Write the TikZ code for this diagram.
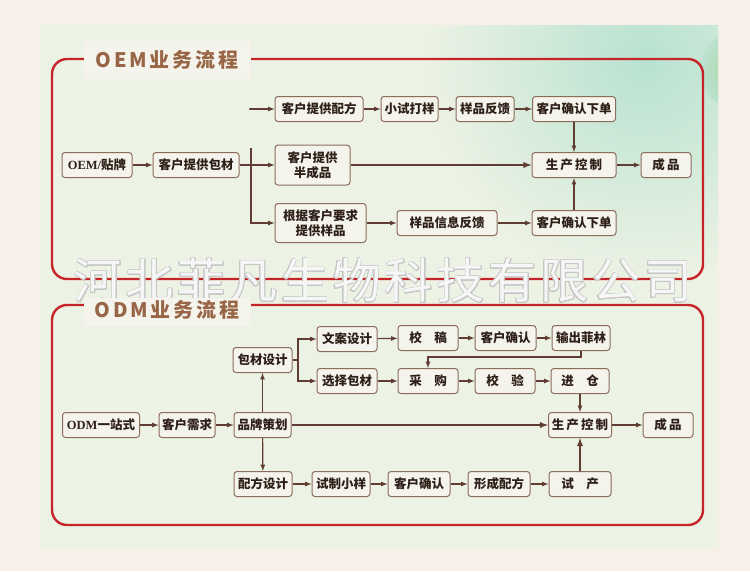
\documentclass[tikz,border=0pt]{standalone}
\usepackage{fontspec}
\usepackage{xcolor}
\usepackage{tikz}
\usepackage{contour}
\usetikzlibrary{arrows, positioning}
\setmainfont{Liberation Serif}
\newfontfamily\cjk{Noto Sans CJK SC}
\newfontfamily\cjktitle[LetterSpace=14]{Noto Sans CJK SC}
\newfontfamily\cjkmark[LetterSpace=8]{Noto Sans CJK SC}
\newcommand{\latn}[1]{{\rmfamily\bfseries #1}}
\definecolor{outerbg}{RGB}{247,240,232}
\definecolor{panelbg}{RGB}{236,242,228}
\definecolor{framered}{RGB}{198,36,40}
\definecolor{titlebrown}{RGB}{152,102,70}
\definecolor{boxline}{RGB}{140,108,92}
\definecolor{boxfill}{RGB}{244,244,236}
\definecolor{flowline}{RGB}{96,60,50}
\definecolor{boxtext}{RGB}{46,32,24}
\contourlength{0.7pt}
\contournumber{24}

\begin{document}
\begin{tikzpicture}[x=1pt, y=-1pt,
    box/.style={draw=boxline, fill=boxfill, rounded corners=3pt, line width=1pt,
                minimum height=25pt, inner sep=1pt, align=center, text=boxtext,
                font=\cjk\bfseries\fontsize{12.5}{15}\selectfont},
    flow/.style={draw=flowline, line width=1.2pt, -latex},
    thickflow/.style={flow, line width=1.8pt},
    plain/.style={draw=flowline, line width=1.2pt},
    frame/.style={draw=framered, line width=2.4pt, rounded corners=15pt},
    titlepatch/.style={fill=boxfill, minimum width=167pt, minimum height=38pt, inner sep=0pt},
    titletext/.style={text=titlebrown, font=\cjktitle\bfseries\fontsize{20}{22}\selectfont}]
\useasboundingbox (0,0) rectangle (750,571);
% background
\fill[outerbg] (0,0) rectangle (750,571);
\fill[panelbg] (40,25) rectangle (718,548);
\begin{scope}
  \clip (40,25) rectangle (718,548);
  \shade[inner color={rgb,255:red,184;green,226;blue,208}, outer color=panelbg] (645,60) circle (220);
  \shade[inner color={rgb,255:red,172;green,212;blue,152}, outer color={rgb,255:red,186;green,226;blue,208}] (740,70) circle (40);
\end{scope}

% frames
\draw[frame] (52,59) rectangle (703,279);
\draw[frame] (52,305) rectangle (703,525);

% watermark
\node[opacity=0.85, inner sep=0pt, font=\cjkmark\fontsize{48}{50}\selectfont] (mark) at (383,281)
  {\contour{gray!45}{\textcolor{white}{河北菲凡生物科技有限公司}}};

% titles
\node[titlepatch] (oempatch) at (167,60) {};
\node[titletext] (oemtitle) at (167,60) {OEM业务流程};
\node[titlepatch, minimum height=28pt] (odmpatch) at (167,312) {};
\node[titletext] (odmtitle) at (167,310) {ODM业务流程};

% OEM
\node[box, minimum width=70pt] (oem) at (97,165) {\latn{OEM/}贴牌};
\node[box, minimum width=86pt] (bc) at (196,165) {客户提供包材};
\node[box, minimum width=88pt] (pf) at (319,109) {客户提供配方};
\node[box, minimum width=75pt, minimum height=40pt] (bcp) at (312.5,165) {客户提供\\半成品};
\node[box, minimum width=91pt, minimum height=39pt] (yp) at (320.5,223) {根据客户要求\\提供样品};
\node[box, minimum width=57pt] (xs) at (409.5,109) {小试打样};
\node[box, minimum width=58pt] (fk) at (485,109) {样品反馈};
\node[box, minimum width=83pt] (qr1) at (574,109) {客户确认下单};
\node[box, minimum width=84pt] (sc1) at (574,165) {生\,产\,控\,制};
\node[box, minimum width=50pt] (cp1) at (666,165) {成\,品};
\node[box, minimum width=100pt] (xx) at (447,223) {样品信息反馈};
\node[box, minimum width=84pt] (qr2) at (574,223) {客户确认下单};

\coordinate (pfin) at (250,109);
\coordinate (fork1) at (251,148);
\draw[flow] (oem) -- (bc);
\draw[flow] (bc) -- (bcp);
\draw[flow] (fork1) |- (yp);
\draw[flow] (pfin) -- (pf);
\fill[flowline] (pfin) circle (1.2pt);
\draw[flow] (pf) -- (xs);
\draw[flow] (xs) -- (fk);
\draw[flow] (fk) -- (qr1);
\draw[flow] (qr1) -- (sc1);
\draw[thickflow] (bcp) -- (sc1);
\draw[flow] (yp) -- (xx);
\draw[flow] (xx) -- (qr2);
\draw[flow] (qr2) -- (sc1);
\draw[flow] (sc1) -- (cp1);

% ODM
\node[box, minimum width=77pt] (odm) at (101,425) {\latn{ODM}一站式};
\node[box, minimum width=56pt] (xq) at (187,425) {客户需求};
\node[box, minimum width=57pt] (pp) at (262.5,425) {品牌策划};
\node[box, minimum width=59pt] (bz) at (262.5,360) {包材设计};
\node[box, minimum width=58pt] (pfsj) at (263,484) {配方设计};
\node[box, minimum width=60pt] (wa) at (347,339) {文案设计};
\node[box, minimum width=60pt] (xz) at (347,381) {选择包材};
\node[box, minimum width=60pt] (jg) at (428,338) {校\quad 稿};
\node[box, minimum width=61pt] (qr3) at (505.5,338) {客户确认};
\node[box, minimum width=58pt] (fl) at (581,338) {输出菲林};
\node[box, minimum width=60pt] (cg) at (428,381) {采\quad 购};
\node[box, minimum width=60pt] (jy) at (505,381) {校\quad 验};
\node[box, minimum width=58pt] (jc) at (580,381) {进\quad 仓};
\node[box, minimum width=63pt] (sc2) at (580,425) {生\,产\,控\,制};
\node[box, minimum width=50pt] (cp2) at (668,425) {成\,品};
\node[box, minimum width=58pt] (xy) at (341,484) {试制小样};
\node[box, minimum width=62pt] (qr4) at (419,484) {客户确认};
\node[box, minimum width=62pt] (xcpf) at (499,484) {形成配方};
\node[box, minimum width=62pt] (sy) at (580,484) {试\quad 产};

\coordinate (fork2) at (298,360);
\coordinate (turn) at (581,357);
\draw[flow] (odm) -- (xq);
\draw[flow] (xq) -- (pp);
\draw[thickflow] (pp) -- (sc2);
\draw[flow] (pp) -- (bz);
\draw[flow] (pp) -- (pfsj);
\draw[plain] (bz) -- (fork2);
\draw[flow] (fork2) |- (wa);
\draw[flow] (fork2) |- (xz);
\draw[flow] (wa) -- (jg);
\draw[flow] (jg) -- (qr3);
\draw[flow] (qr3) -- (fl);
\draw[flow] (fl) -- (turn) -| (cg);
\draw[flow] (xz) -- (cg);
\draw[flow] (cg) -- (jy);
\draw[flow] (jy) -- (jc);
\draw[flow] (jc) -- (sc2);
\draw[flow] (sc2) -- (cp2);
\draw[thickflow] (sy) -- (sc2);
\draw[flow] (pfsj) -- (xy);
\draw[flow] (xy) -- (qr4);
\draw[flow] (qr4) -- (xcpf);
\draw[flow] (xcpf) -- (sy);
\end{tikzpicture}
\end{document}
